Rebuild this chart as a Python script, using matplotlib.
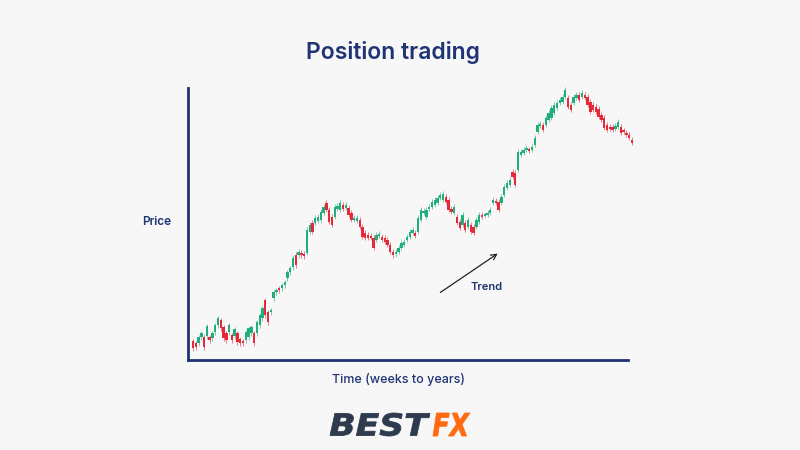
import numpy as np
import matplotlib.pyplot as plt
from matplotlib.patches import Rectangle, PathPatch
from matplotlib.textpath import TextPath
from matplotlib.font_manager import FontProperties
from matplotlib.transforms import Affine2D

# candle data (price units, higher = up)
opens = [19, 17, 17, 23, 23, 24, 23, 22, 28, 35, 40, 33, 27, 28, 25, 24, 27, 21, 19, 20,
         23, 27, 27, 27, 35, 42, 60, 48, 48, 62, 68, 72, 72, 75, 82, 88, 93, 105, 105,
         107, 106, 107, 128, 137, 137, 139, 140, 147, 157, 150, 143, 143, 151, 150, 155,
         152, 152, 147, 140, 139, 140, 133, 127, 125, 124, 122, 120, 124, 123, 122, 120,
         115, 108, 106, 108, 112, 115, 120, 123,
         127, 127, 128, 140, 147, 143, 151, 153, 155, 157, 162, 160, 163, 160, 151, 147,
         143, 138, 135, 137, 133, 135, 133, 133, 138, 145, 144, 145, 147, 157, 159, 158,
         157, 165, 172, 175, 188, 187,
         190, 205, 207, 210, 210, 210, 215, 228, 234, 235, 235, 240, 242, 247, 252, 257,
         258, 263, 262, 255, 257, 262, 265, 263, 265, 263, 258, 255, 253, 251, 245, 242,
         235, 233, 233, 231, 233, 233, 229, 227, 225, 220]
closes = [12, 13, 23, 27, 13, 34, 20, 27, 35, 42, 32, 22, 20, 35, 20, 31, 18, 17, 17, 28,
          32, 33, 17, 38, 45, 52, 45, 38, 50, 68, 70, 70, 75, 78, 88, 92, 102, 95, 108,
          105, 104, 130, 135, 128, 142, 143, 148, 153, 150, 138, 135, 153, 154, 157, 151,
          155, 145, 140, 142, 142, 133, 123, 122, 122, 122, 112, 125, 126, 120, 118, 115,
          108, 105, 108, 112, 117, 118, 123, 128,
          130, 124, 142, 150, 149, 150, 153, 158, 160, 162, 165, 166, 158, 150, 148, 153,
          137, 132, 145, 130, 140, 128, 127, 140, 145, 143, 145, 147, 150, 160, 157, 150,
          163, 173, 177, 180, 183, 175,
          208, 208, 210, 212, 209, 213, 222, 235, 236, 230, 242, 247, 252, 255, 257, 260,
          263, 270, 253, 250, 263, 265, 260, 267, 262, 255, 248, 250, 248, 243, 240, 232,
          230, 231, 230, 234, 238, 227, 228, 225, 222, 217]

x_label = "Time (weeks to years)"
y_label = "Price"
title = "Position trading"
trend_label = "Trend"

NAVY = "#1f3474"
GREEN = "#1fae7c"
RED = "#e5283a"
BG = "#f7f7f7"

fig = plt.figure(figsize=(8, 4.5), dpi=100, facecolor=BG)
ax = fig.add_axes([188 / 800, 90 / 450, 440 / 800, 272 / 450])
ax.set_facecolor(BG)

n = len(closes)
px_per = 439 / (n - 1)
ax.set_xlim(-5 / px_per, 435 / px_per)
ax.set_ylim(0, 272)

body_w = 0.85
wick = 2.5
for i, (o, c) in enumerate(zip(opens, closes)):
    col = GREEN if c >= o else RED
    lo, hi = min(o, c), max(o, c)
    ax.plot([i, i], [lo - wick, hi + wick], color=col, lw=0.7, alpha=0.6,
            clip_on=False, solid_capstyle="butt")
    ax.add_patch(Rectangle((i - body_w / 2, lo), body_w, max(hi - lo, 2),
                           facecolor=col, edgecolor="none", clip_on=False))

for side in ["top", "right"]:
    ax.spines[side].set_visible(False)
for side in ["left", "bottom"]:
    ax.spines[side].set_color(NAVY)
    ax.spines[side].set_linewidth(2)
ax.set_xticks([])
ax.set_yticks([])

# trend arrow
ax.annotate("", xy=(110.5, 108), xytext=(88.2, 66),
            arrowprops=dict(arrowstyle="->", color="#222222", lw=0.9))
ax.text(99.8, 73, trend_label, color=NAVY, fontsize=8, fontweight="semibold",
        family="Inter", ha="left", va="center")

fig.text(393 / 800, 1 - 52 / 450, title, color=NAVY, fontsize=16.5, fontweight="semibold",
         family="Inter", ha="center", va="center")
fig.text(157 / 800, 1 - 222 / 450, y_label, color=NAVY, fontsize=8.5, fontweight="semibold",
         family="Inter", ha="center", va="center")
fig.text(399 / 800, 1 - 380 / 450, x_label, color=NAVY, fontsize=9, fontweight="medium",
         family="Inter", ha="center", va="center")


# logo: stretched heavy italic letters drawn as paths in pixel space
def logo_word(word, color, x0, x1, y0, y1):
    fp = FontProperties(family="DejaVu Sans", weight="bold", style="oblique")
    tp = TextPath((0, 0), word, size=10, prop=fp)
    ext = tp.get_extents()
    tr = (Affine2D().translate(-ext.x0, -ext.y0)
          .scale((x1 - x0) / ext.width, (y1 - y0) / ext.height)
          .translate(x0, 450 - y1))
    fig.add_artist(PathPatch(tr.transform_path(tp), facecolor=color,
                             edgecolor=color, lw=0.6, transform=None))


logo_word("BEST", "#2e3b4e", 330, 430, 413, 436)
logo_word("FX", "#ff6b12", 433, 470, 413, 436)

fig.savefig("out.png", dpi=100, facecolor=BG)
